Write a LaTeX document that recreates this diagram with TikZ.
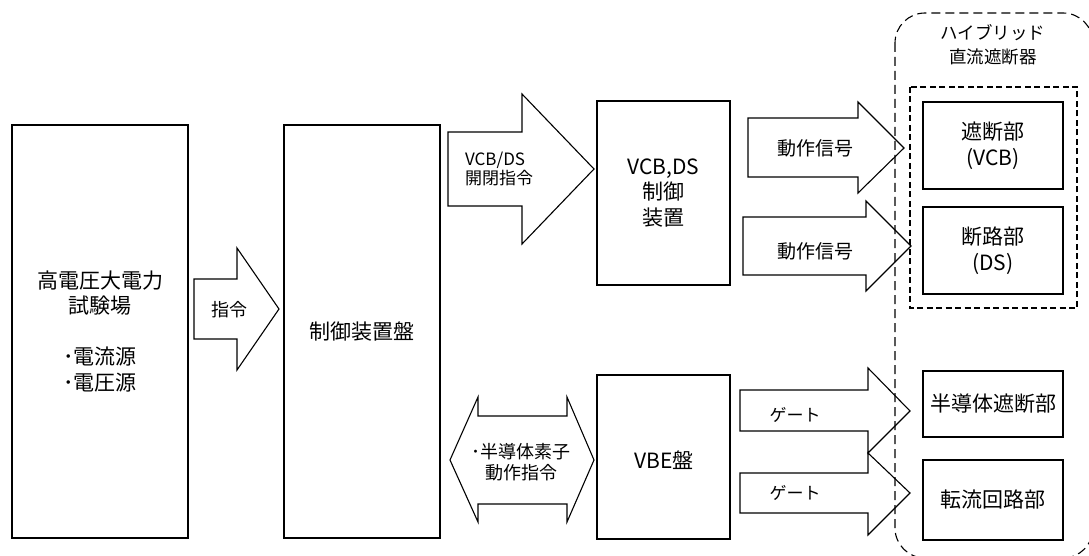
\documentclass[tikz,border=0pt]{standalone}
\usepackage{fontspec}
\setmainfont{Noto Sans CJK JP}
\begin{document}
\begin{tikzpicture}[x=1pt,y=-1pt,
  line width=1.1pt,
  box/.style={draw, line width=1.1pt, inner sep=0pt, align=center,
    font=\fontsize{21}{25.5}\selectfont},
  barrow/.style={draw, line width=1.1pt, line join=miter, fill=white},
  lbl/.style={inner sep=0pt, align=center, font=\fontsize{18}{21}\selectfont},
  outerdash/.style={draw, line width=1.1pt, dash pattern=on 9pt off 5pt},
  innerdash/.style={draw, line width=1.1pt, dash pattern=on 6pt off 3.5pt}]
\clip (0,0) rectangle (1089,556);
\fill[white] (0,0) rectangle (1089,556);

% boxes
\node[box, minimum width=176pt, minimum height=413pt] (src) at (100,331.5)
  {高電圧大電力\\試験場\\[25.5pt]･電流源\\･電圧源};
\node[box, minimum width=156pt, minimum height=413pt] (ctl) at (362,331.5) {制御装置盤};
\node[box, minimum width=133pt, minimum height=184pt] (vcbds) at (663.5,193) {VCB,DS\\制御\\装置};
\node[box, minimum width=133pt, minimum height=164pt] (vbe) at (663.5,457) {};
\node[lbl, font=\fontsize{21}{25.5}\selectfont] (vbelbl) at (664,460) {VBE盤};
\node[lbl, font=\fontsize{17.5}{24}\selectfont] (title) at (993,45) {ハイブリッド\\直流遮断器};
\node[box, minimum width=140pt, minimum height=87pt] (vcb) at (993,145.5) {遮断部\\(VCB)};
\node[box, minimum width=140pt, minimum height=87pt] (ds) at (993,250.5) {断路部\\(DS)};
\node[box, minimum width=140pt, minimum height=66pt] (semi) at (993,404) {半導体遮断部};
\node[box, minimum width=140pt, minimum height=80pt] (comm) at (993,500) {転流回路部};

% block arrows
\draw[barrow] (194,279) -- (237,279) -- (237,248) -- (279,309) -- (237,370) -- (237,339) -- (194,339) -- cycle;
\node[lbl] (a1) at (229,310) {指令};

\draw[barrow] (448,132) -- (522,132) -- (522,94) -- (594,169) -- (522,244) -- (522,206) -- (448,206) -- cycle;
\node[lbl, align=left, font=\fontsize{17}{19.5}\selectfont] (a2) at (499,169) {VCB/DS\\開閉指令};

\draw[barrow] (748,118) -- (858,118) -- (858,102) -- (904,148) -- (858,193) -- (858,177) -- (748,177) -- cycle;
\node[lbl, font=\fontsize{19}{21}\selectfont] (a3) at (815,148) {動作信号};

\draw[barrow] (743,217) -- (866,217) -- (866,201) -- (911,246) -- (866,291) -- (866,275) -- (743,275) -- cycle;
\node[lbl, font=\fontsize{19}{21}\selectfont] (a4) at (815,251) {動作信号};

\draw[barrow] (740,390) -- (868,390) -- (868,368) -- (910,411) -- (868,453) -- (868,431) -- (740,431) -- cycle;
\node[lbl, font=\fontsize{17}{20}\selectfont] (a5) at (795,415) {ゲート};

\draw[barrow] (740,473) -- (868,473) -- (868,453) -- (910,493) -- (868,535) -- (868,513) -- (740,513) -- cycle;
\node[lbl, font=\fontsize{17}{20}\selectfont] (a6) at (795,493) {ゲート};

\draw[barrow] (450,460) -- (478,397) -- (478,416) -- (567,416) -- (567,397) -- (594,460) -- (567,522) -- (567,504) -- (478,504) -- (478,522) -- cycle;
\node[lbl, font=\fontsize{18}{21}\selectfont] (a7) at (521,462) {･半導体素子\\動作指令};

% dashed groups
\draw[innerdash] (910,87) rectangle (1077,308);
\draw[outerdash, rounded corners=30pt] (895,13) rectangle (1093,558);
\end{tikzpicture}
\end{document}
